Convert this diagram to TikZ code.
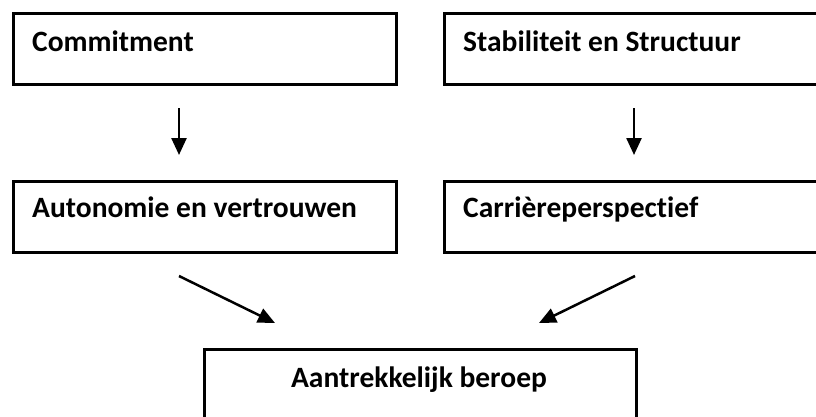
\documentclass[tikz,border=0pt]{standalone}
\usepackage{fontspec}
\setmainfont{Carlito}[Ligatures={NoCommon}]
\usetikzlibrary{arrows.meta}
\begin{document}
\begin{tikzpicture}[x=1pt,y=1pt,
  box/.style={draw=black, line width=3pt, rectangle, inner sep=0pt, anchor=north west},
  lbl/.style={inner sep=0pt, font=\fontsize{29.5}{34}\selectfont\bfseries},
  arr/.style={line width=2.5pt, -{Triangle[length=17pt,width=15pt]}}]
\useasboundingbox (0,0) rectangle (816,416);
\clip (0,0) rectangle (816,416);
\node[box, minimum width=383.5pt, minimum height=71pt] (b1) at (11.5,404) {};
\node[box, minimum width=387pt, minimum height=71pt] (b2) at (443,404) {};
\node[box, minimum width=383.5pt, minimum height=71pt] (b3) at (11.5,236) {};
\node[box, minimum width=387pt, minimum height=71pt] (b4) at (443,236) {};
\node[box, minimum width=432pt, minimum height=82pt] (b5) at (203,68) {};
\node[lbl, anchor=base west] (t1) at (32,364) {Commitment};
\node[lbl, anchor=base west] (t2) at (463,364) {Stabiliteit en Structuur};
\node[lbl, anchor=base west] (t3) at (32,199) {Autonomie en vertrouwen};
\node[lbl, anchor=base west] (t4) at (463,199) {Carrièreperspectief};
\node[lbl, anchor=base] (t5) at (419,29) {Aantrekkelijk beroep};
\coordinate (a1s) at (179,308);
\coordinate (a1e) at (179,261);
\coordinate (a2s) at (634,308);
\coordinate (a2e) at (634,261);
\coordinate (a3s) at (179,140);
\coordinate (a3e) at (275,93);
\coordinate (a4s) at (635,140);
\coordinate (a4e) at (539,93);
\draw[arr] (a1s) -- (a1e);
\draw[arr] (a2s) -- (a2e);
\draw[arr] (a3s) -- (a3e);
\draw[arr] (a4s) -- (a4e);
\end{tikzpicture}
\end{document}
